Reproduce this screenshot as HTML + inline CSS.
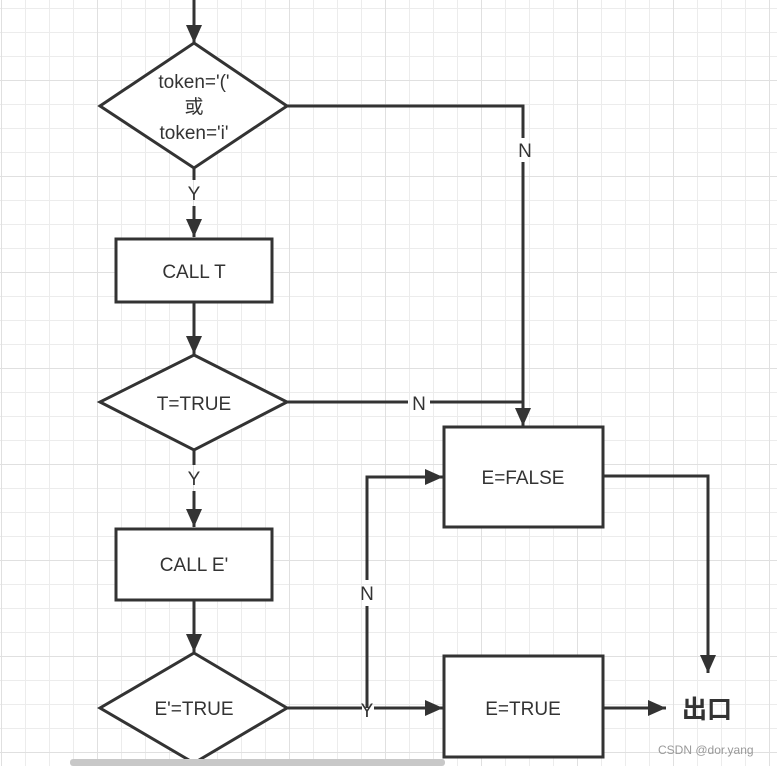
<!DOCTYPE html>
<html><head><meta charset="utf-8"><style>
html,body{margin:0;padding:0;background:#fff;}
body{width:777px;height:766px;overflow:hidden;position:relative;
background-image:
linear-gradient(#e0e0e0 1px,transparent 1px),
linear-gradient(90deg,#e0e0e0 1px,transparent 1px),
linear-gradient(#ececec 1px,transparent 1px),
linear-gradient(90deg,#ececec 1px,transparent 1px);
background-size:96px 96px,96px 96px,24px 24px,24px 24px;
background-position:0 -16px,1px 0,0 -16px,1px 0;}
svg{position:absolute;left:0;top:0}
text{font-family:"Liberation Sans","Noto Sans CJK SC",sans-serif;fill:#333;font-size:19px}
</style></head><body>
<svg width="777" height="766">
<defs>
<marker id="b" markerWidth="18" markerHeight="16" refX="18" refY="8" orient="auto" markerUnits="userSpaceOnUse"><path d="M0,0 L18,8 L0,16 Z" fill="#333"/></marker></defs>
<g stroke="#333" stroke-width="3" fill="none">
<line x1="194" y1="0" x2="194" y2="43" marker-end="url(#b)"/>
<polygon points="194,43 287,106 194,168 100,106" fill="#fff"/>
<polyline points="287,106 523,106 523,138"/>
<line x1="523" y1="162" x2="523" y2="426" marker-end="url(#b)"/>
<line x1="194" y1="168" x2="194" y2="180"/>
<line x1="194" y1="206" x2="194" y2="237" marker-end="url(#b)"/>
<rect x="116" y="239" width="156" height="63" fill="#fff"/>
<line x1="194" y1="302" x2="194" y2="354" marker-end="url(#b)"/>
<polygon points="194,355 287,402 194,450 100,402" fill="#fff"/>
<line x1="287" y1="402" x2="408" y2="402"/>
<line x1="430" y1="402" x2="523" y2="402"/>
<line x1="194" y1="450" x2="194" y2="465"/>
<line x1="194" y1="491" x2="194" y2="527" marker-end="url(#b)"/>
<rect x="116" y="529" width="156" height="71" fill="#fff"/>
<line x1="194" y1="600" x2="194" y2="652" marker-end="url(#b)"/>
<polygon points="194,653 287,708 194,763 100,708" fill="#fff"/>
<line x1="287" y1="708" x2="362" y2="708"/>
<line x1="374" y1="708" x2="443" y2="708" marker-end="url(#b)"/>
<polyline points="367,708 367,606"/>
<polyline points="367,580 367,477 443,477" marker-end="url(#b)"/>
<rect x="444" y="427" width="159" height="100" fill="#fff"/>
<rect x="444" y="656" width="159" height="101" fill="#fff"/>
<polyline points="603,476 708,476 708,673" marker-end="url(#b)"/>
<line x1="603" y1="708" x2="666" y2="708" marker-end="url(#b)"/>
</g>
<text x="194" y="88" text-anchor="middle">token='('</text>
<text x="194" y="113" text-anchor="middle">或</text>
<text x="194" y="139" text-anchor="middle">token='i'</text>
<text x="194" y="200" text-anchor="middle">Y</text>
<text x="525" y="157" text-anchor="middle">N</text>
<text x="194" y="278" text-anchor="middle">CALL T</text>
<text x="194" y="410" text-anchor="middle">T=TRUE</text>
<text x="419" y="410" text-anchor="middle">N</text>
<text x="194" y="485" text-anchor="middle">Y</text>
<text x="194" y="571" text-anchor="middle">CALL E'</text>
<text x="194" y="715" text-anchor="middle">E'=TRUE</text>
<text x="367" y="717" text-anchor="middle">Y</text>
<text x="367" y="600" text-anchor="middle">N</text>
<text x="523" y="484" text-anchor="middle">E=FALSE</text>
<text x="523" y="715" text-anchor="middle">E=TRUE</text>
<text x="682" y="718" style="font-size:25px;font-weight:bold">出口</text>
<text x="658" y="754" style="font-size:12px;fill:#999">CSDN @dor.yang</text>
<rect x="70" y="759" width="375" height="7" rx="3" fill="#c8c8c8"/>
</svg>
</body></html>
